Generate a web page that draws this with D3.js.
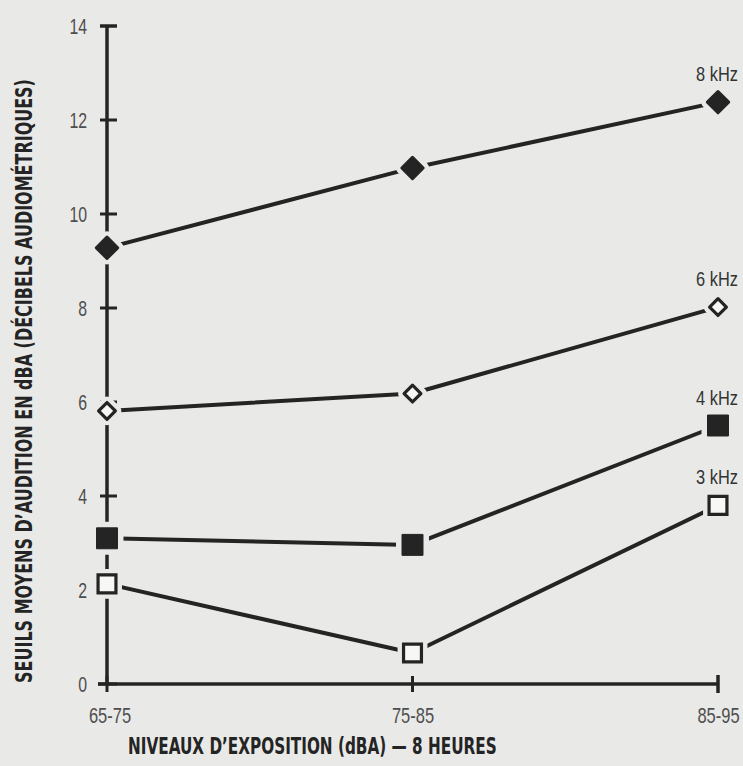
<!DOCTYPE html>
<html><head><meta charset="utf-8">
<script src="https://cdn.jsdelivr.net/npm/d3@7/dist/d3.min.js"></script>
<style>
html,body{margin:0;padding:0;background:#e9e9e7;}
svg{display:block;}
</style></head>
<body>
<script>
const categories = ["65-75", "75-85", "85-95"];
const yTicks = [0, 2, 4, 6, 8, 10, 12, 14];
const seriesNames = ["8 kHz", "6 kHz", "4 kHz", "3 kHz"];
const values8k = [9.28, 10.98, 12.38];
const values6k = [5.81, 6.18, 8.02];
const values4k = [3.1, 2.96, 5.5];
const values3k = [2.13, 0.66, 3.8];
const markerTypes = ["filledDiamond", "openDiamond", "filledSquare", "openSquare"];

const W = 743, H = 766;
const bg = "#e9e9e7", ink = "#242424", grey = "#4e4e4e";
const svg = d3.select("body").append("svg").attr("width", W).attr("height", H);
svg.append("rect").attr("width", W).attr("height", H).attr("fill", bg);

const x = d3.scalePoint().domain(categories).range([107, 718]);
const y = d3.scaleLinear().domain([0, 14]).range([684, 26]);

const font = "'Liberation Sans',Arial,sans-serif";

// Y axis
const yAxis = d3.axisLeft(y).tickValues(yTicks).tickSize(0).tickPadding(20).tickFormat(d3.format("d"));
const gy = svg.append("g").attr("transform", "translate(107,0)").call(yAxis);
gy.select(".domain").remove();
gy.selectAll("text").attr("font-family", font).attr("font-size", 22).attr("fill", grey)
  .attr("dy", "0.36em").attr("x", -20 / 0.72).attr("transform", "scale(0.72,1)");
svg.append("line").attr("x1", 107).attr("x2", 107).attr("y1", y(14)).attr("y2", y(0))
  .attr("stroke", ink).attr("stroke-width", 3.5);
svg.append("g").selectAll("line").data(yTicks).join("line")
  .attr("x1", d => d === 0 ? 98 : 100).attr("x2", 117)
  .attr("y1", d => y(d)).attr("y2", d => y(d))
  .attr("stroke", ink).attr("stroke-width", d => d === 14 ? 3.5 : 3);

// X axis
const xAxis = d3.axisBottom(x).tickSize(0).tickPadding(23);
const gx = svg.append("g").attr("transform", `translate(0,${y(0)})`).call(xAxis);
gx.select(".domain").remove();
gx.selectAll("text").attr("font-family", font).attr("font-size", 22).attr("fill", grey)
  .attr("transform", "scale(0.75,1)");
gx.selectAll(".tick").filter(d => d === "65-75").attr("transform", `translate(${x("65-75") + 3},0)`);
svg.append("line").attr("x1", 98).attr("x2", 718).attr("y1", y(0)).attr("y2", y(0))
  .attr("stroke", ink).attr("stroke-width", 3.5);
svg.append("g").selectAll("line").data(categories).join("line")
  .attr("x1", d => x(d)).attr("x2", d => x(d))
  .attr("y1", d => y(0) - (d === "85-95" ? 9 : 8)).attr("y2", d => y(0) + (d === "85-95" ? 9 : 8))
  .attr("stroke", ink).attr("stroke-width", d => d === "85-95" ? 3.5 : 3);

// Axis titles (condensed via scale, then fitted to measured length)
const titleFont = "'DejaVu Sans',sans-serif";
function fitTitle(sel, target) {
  const L = sel.node().getComputedTextLength();
  return target / L;
}
const yt = svg.append("text").attr("text-anchor", "middle").attr("font-family", titleFont)
  .attr("font-weight", "bold").attr("font-size", 23).attr("fill", ink)
  .text("SEUILS MOYENS D\u2019AUDITION EN dBA (DÉCIBELS AUDIOMÉTRIQUES)");
const sy = fitTitle(yt, 604);
yt.attr("transform", `translate(32,381) rotate(-90) scale(${sy},1)`);
const xt = svg.append("text").attr("font-family", titleFont)
  .attr("font-weight", "bold").attr("font-size", 23).attr("fill", ink)
  .text("NIVEAUX D\u2019EXPOSITION (dBA) \u2014 8 HEURES");
const sx = fitTitle(xt, 369);
xt.attr("transform", `translate(128,754) scale(${sx},1)`);

// Series
const allValues = [values8k, values6k, values4k, values3k];
const series = seriesNames.map((n, i) => ({ name: n, values: allValues[i], type: markerTypes[i] }));
const line = d3.line().x((d, i) => x(categories[i])).y(d => y(d));

svg.append("g").selectAll("path").data(series).join("path")
  .attr("d", s => line(s.values)).attr("fill", "none")
  .attr("stroke", ink).attr("stroke-width", 4).attr("stroke-linejoin", "round");

function markerPath(type) {
  if (type === "filledDiamond") return d3.symbol(d3.symbolDiamond2, 290)();
  if (type === "openDiamond") return d3.symbol(d3.symbolDiamond2, 180)();
  if (type === "filledSquare") return d3.symbol(d3.symbolSquare, 440)();
  return d3.symbol(d3.symbolSquare, 320)();
}

series.forEach(s => {
  const g = svg.append("g");
  const pts = s.values.map((v, i) => ({ v, c: categories[i] }));
  g.selectAll("path.halo").data(pts).join("path").attr("class", "halo")
    .attr("d", markerPath(s.type))
    .attr("transform", d => `translate(${x(d.c)},${y(d.v)})`)
    .attr("fill", bg).attr("stroke", bg).attr("stroke-width", 12).attr("stroke-linejoin", "round");
  const filled = s.type.startsWith("filled");
  const isDiamond = s.type.endsWith("Diamond");
  g.selectAll("path.mk").data(pts).join("path").attr("class", "mk")
    .attr("d", markerPath(s.type))
    .attr("transform", d => `translate(${x(d.c)},${y(d.v)})`)
    .attr("fill", filled ? ink : "#f7f7f6").attr("stroke", ink)
    .attr("stroke-width", filled ? (isDiamond ? 3 : 1) : 3.2)
    .attr("stroke-linejoin", isDiamond ? "round" : "miter");
  const last = s.values[s.values.length - 1];
  g.append("text")
    .attr("transform", `translate(${x(categories[categories.length - 1]) - 1},${y(last) - 21}) scale(0.78,1)`)
    .attr("text-anchor", "middle").attr("font-family", font).attr("font-size", 21).attr("fill", "#333")
    .text(s.name);
});
</script>
</body></html>
